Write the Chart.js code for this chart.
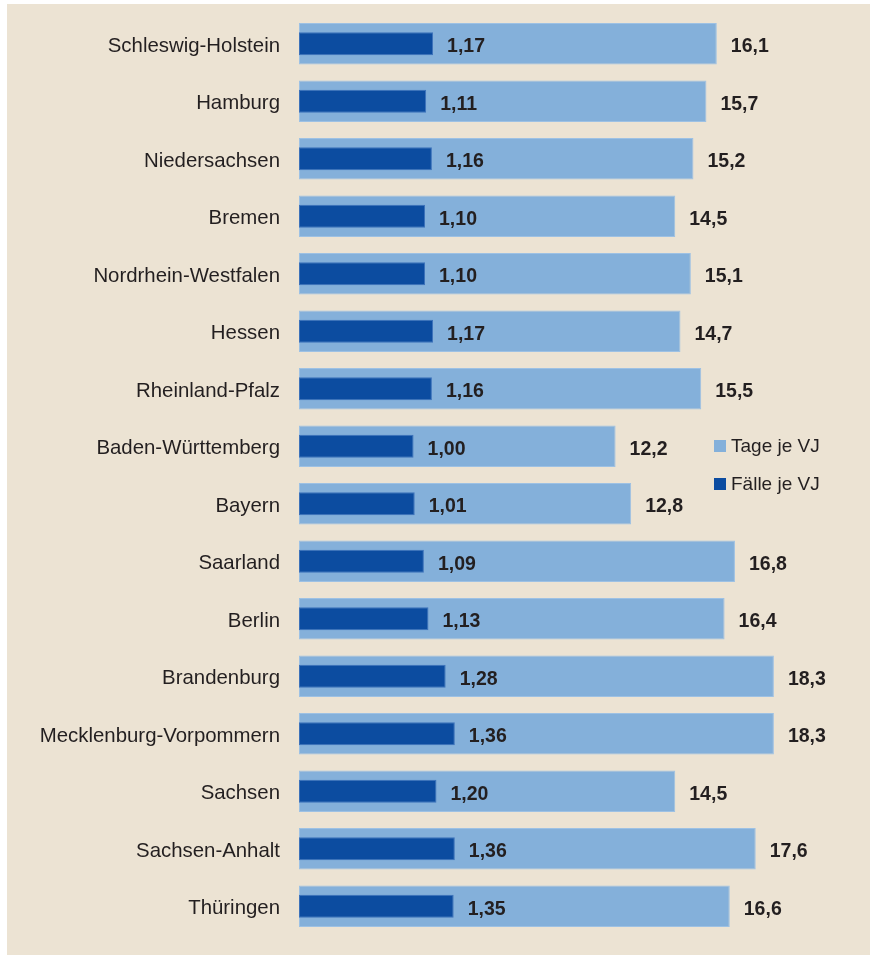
<!DOCTYPE html>
<html>
<head>
    <title>Tage und Fälle je VJ</title>
    <script src="https://cdn.jsdelivr.net/npm/chart.js@4.4.1/dist/chart.umd.min.js"></script>
    <style>
        body { margin: 0; background: #ffffff; }
        .panel {
            position: absolute;
            left: 7px;
            top: 4px;
            width: 863px;
            height: 951px;
            background: #ece3d3;
        }
        canvas { display: block; }
    </style>
</head>
<body>
    <div class="panel">
        <canvas id="myChart" width="863" height="951"></canvas>
    </div>

    <script>
        // data
        const states = ['Schleswig-Holstein', 'Hamburg', 'Niedersachsen', 'Bremen',
            'Nordrhein-Westfalen', 'Hessen', 'Rheinland-Pfalz', 'Baden-Württemberg',
            'Bayern', 'Saarland', 'Berlin', 'Brandenburg', 'Mecklenburg-Vorpommern',
            'Sachsen', 'Sachsen-Anhalt', 'Thüringen'];
        const tageJeVJ = [16.1, 15.7, 15.2, 14.5, 15.1, 14.7, 15.5, 12.2, 12.8, 16.8, 16.4, 18.3, 18.3, 14.5, 17.6, 16.6];
        const faelleJeVJ = [1.17, 1.11, 1.16, 1.10, 1.10, 1.17, 1.16, 1.00, 1.01, 1.09, 1.13, 1.28, 1.36, 1.20, 1.36, 1.35];
        const tageDigits = 1;
        const faelleDigits = 2;

        const textColor = '#231f20';
        const lightBlue = '#84b0da';
        const darkBlue = '#0c4ca0';

        // numbers next to each bar, German decimal comma
        const valueLabels = {
            id: 'valueLabels',
            afterDatasetsDraw(chart) {
                const ctx = chart.ctx;
                ctx.save();
                ctx.font = 'bold 19.5px "Liberation Sans", Arial, sans-serif';
                ctx.fillStyle = textColor;
                ctx.textAlign = 'left';
                ctx.textBaseline = 'middle';
                chart.data.datasets.forEach(function (ds, i) {
                    const meta = chart.getDatasetMeta(i);
                    meta.data.forEach(function (bar, j) {
                        const txt = ds.data[j].toFixed(ds.digits).replace('.', ',');
                        ctx.fillText(txt, bar.x + 14, bar.y + 3);
                    });
                });
                ctx.restore();
            }
        };

        // legend sits inside the plot on the right
        const boxLegend = {
            id: 'boxLegend',
            afterDraw(chart) {
                const ctx = chart.ctx;
                const area = chart.chartArea;
                let x = area.left + 415;
                let y = area.top + 431;
                ctx.save();
                ctx.font = '19px "Liberation Sans", Arial, sans-serif';
                ctx.textBaseline = 'middle';
                chart.data.datasets.forEach(function (ds) {
                    ctx.fillStyle = ds.backgroundColor;
                    ctx.fillRect(x, y - 6, 12, 12);
                    ctx.fillStyle = textColor;
                    ctx.fillText(ds.label, x + 17, y + 1);
                    y += 38;
                });
                ctx.restore();
            }
        };

        const ctx = document.getElementById('myChart');
        const myChart = new Chart(ctx, {
            type: 'bar',
            data: {
                labels: states,
                datasets: [{
                    label: 'Tage je VJ',
                    data: tageJeVJ,
                    digits: tageDigits,
                    xAxisID: 'x',
                    backgroundColor: lightBlue,
                    borderColor: '#9dc1e4',
                    borderWidth: 1,
                    borderSkipped: false,
                    barPercentage: 0.725,
                    categoryPercentage: 1,
                    grouped: false,
                    order: 2
                }, {
                    label: 'Fälle je VJ',
                    data: faelleJeVJ,
                    digits: faelleDigits,
                    xAxisID: 'x2',
                    backgroundColor: darkBlue,
                    borderColor: '#3d72ba',
                    borderWidth: 1,
                    borderSkipped: false,
                    barPercentage: 0.40,
                    categoryPercentage: 1,
                    grouped: false,
                    order: 1
                }]
            },
            options: {
                indexAxis: 'y',
                responsive: false,
                animation: false,
                layout: {
                    padding: { top: 11, right: 52, bottom: 20, left: 0 }
                },
                plugins: {
                    legend: { display: false },
                    tooltip: { enabled: false }
                },
                scales: {
                    x: {
                        display: false,
                        min: 0,
                        max: 20
                    },
                    x2: {
                        display: false,
                        min: 0,
                        max: 4.53
                    },
                    y: {
                        afterFit: function (scale) {
                            scale.width = 292;
                            scale.paddingTop = 0;
                            scale.paddingBottom = 0;
                        },
                        grid: { display: false, drawTicks: false },
                        border: { display: false },
                        ticks: {
                            padding: 19,
                            labelOffset: 2.5,
                            color: textColor,
                            font: { family: '"Liberation Sans", Arial, sans-serif', size: 20.4 }
                        }
                    }
                }
            },
            plugins: [valueLabels, boxLegend]
        });
    </script>
</body>
</html>
